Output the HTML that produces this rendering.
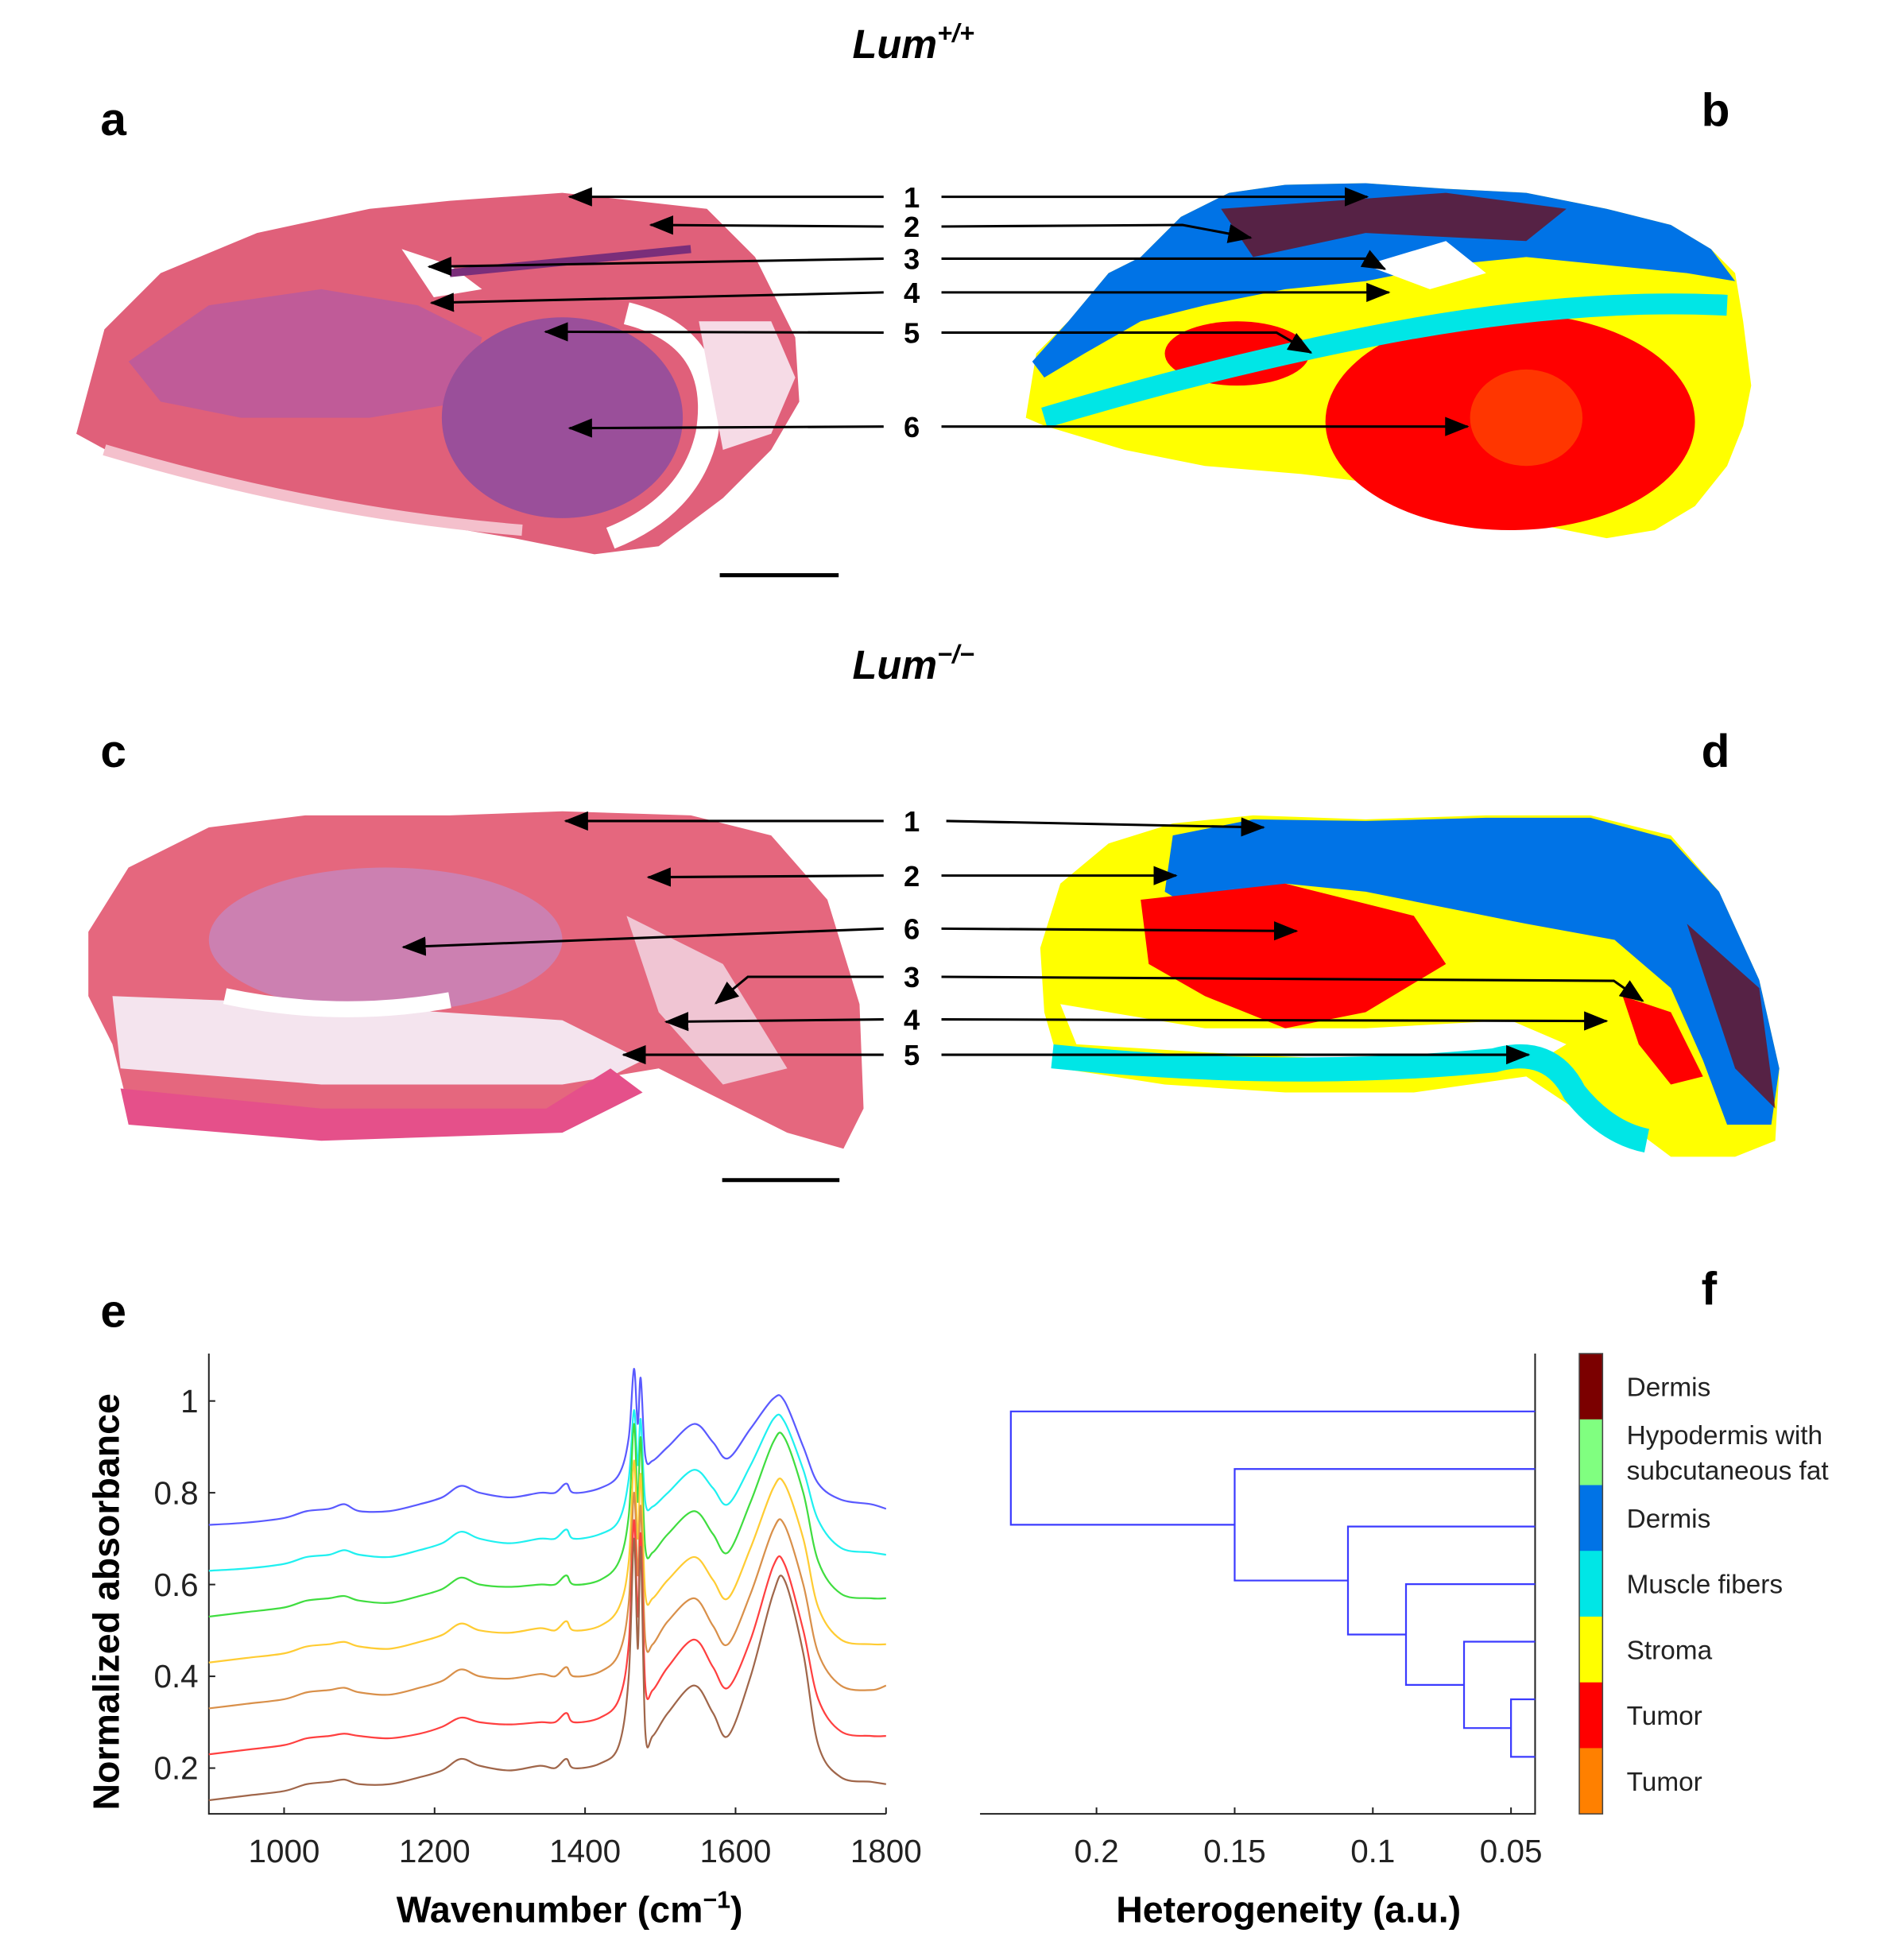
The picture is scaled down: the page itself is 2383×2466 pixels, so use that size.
<!DOCTYPE html>
<html><head><meta charset="utf-8">
<style>
html,body{margin:0;padding:0;background:#fff;}
svg{display:block;font-family:"Liberation Sans",Arial,sans-serif;}
</style></head>
<body>
<svg id="fig" width="2383" height="2466" viewBox="0 0 2383 2466" xmlns="http://www.w3.org/2000/svg">
<defs>
<marker id="ahb" markerWidth="30" markerHeight="24" refX="28" refY="12" orient="auto" markerUnits="userSpaceOnUse"><path d="M0,0 L30,12 L0,24 Z" fill="#000"/></marker>
</defs>
<g transform="scale(1.0107)">
<!-- titles & panel letters -->
<text x="1137" y="72" font-size="50" font-weight="bold" font-style="italic" text-anchor="middle">Lum<tspan font-size="32" dy="-20">+/+</tspan></text>
<text x="1137" y="845" font-size="50" font-weight="bold" font-style="italic" text-anchor="middle">Lum<tspan font-size="32" dy="-20">−/−</tspan></text>
<text x="125" y="168" font-size="58" font-weight="bold">a</text>
<text x="2118" y="157" font-size="58" font-weight="bold">b</text>
<text x="125" y="955" font-size="58" font-weight="bold">c</text>
<text x="2118" y="955" font-size="58" font-weight="bold">d</text>
<text x="125" y="1652" font-size="58" font-weight="bold">e</text>
<text x="2118" y="1624" font-size="58" font-weight="bold">f</text>

<!-- panel a: H&E image -->
<g>
<path d="M95,540 L130,410 L200,340 L320,290 L460,260 L560,250 L700,240 L880,260 L940,320 L960,360 L990,420 L995,500 L960,560 L900,620 L820,680 L740,690 L640,670 L520,650 L380,620 L250,590 L150,570 Z" fill="#e0607a"/>
<path d="M160,450 L260,380 L400,360 L520,380 L600,420 L580,500 L460,520 L300,520 L200,500 Z" fill="#b85aa0" opacity="0.8"/>
<ellipse cx="700" cy="520" rx="150" ry="125" fill="#9a4f9a"/>
<path d="M780,390 Q900,420 880,540 Q860,630 760,670" stroke="#fff" stroke-width="28" fill="none"/>
<path d="M870,400 L960,400 L990,470 L960,540 L900,560 Z" fill="#f6dbe6"/>
<path d="M130,560 Q400,640 650,660" stroke="#f4c0cc" stroke-width="14" fill="none"/>
<path d="M500,310 L560,330 L600,360 L540,370 Z" fill="#fff"/>
<path d="M560,340 L860,310" stroke="#7a2e7a" stroke-width="10"/>
</g>
<line x1="896" y1="716" x2="1044" y2="716" stroke="#000" stroke-width="5"/>

<!-- panel b: cluster map -->
<g>
<path d="M1277,520 L1290,440 L1330,400 L1380,340 L1420,320 L1470,270 L1530,240 L1600,230 L1700,228 L1800,235 L1900,240 L2000,260 L2080,280 L2130,310 L2160,340 L2170,400 L2180,480 L2170,530 L2150,580 L2110,630 L2060,660 L2000,670 L1900,650 L1820,620 L1760,610 L1700,600 L1620,590 L1500,580 L1400,560 L1300,530 Z" fill="#ffff00"/>
<path d="M1285,450 L1330,400 L1380,340 L1420,320 L1470,270 L1530,240 L1600,230 L1700,228 L1800,235 L1900,240 L2000,260 L2080,280 L2130,310 L2160,350 L2100,340 L2000,330 L1900,320 L1800,330 L1700,350 L1600,360 L1500,380 L1420,400 L1350,440 L1300,470 Z" fill="#0073e6"/>
<path d="M1520,260 L1800,240 L1950,260 L1900,300 L1700,290 L1560,320 Z" fill="#7b0000" opacity="0.7"/>
<path d="M1700,330 L1800,300 L1850,340 L1780,360 Z" fill="#fff"/>
<ellipse cx="1880" cy="525" rx="230" ry="135" fill="#ff0000"/>
<ellipse cx="1540" cy="440" rx="90" ry="40" fill="#ff0000"/>
<path d="M1300,520 Q1500,460 1700,420 Q1950,370 2150,380" stroke="#00e6e6" stroke-width="26" fill="none"/>
<ellipse cx="1900" cy="520" rx="70" ry="60" fill="#ff5a00" opacity="0.6"/>
</g>

<!-- panel c: H&E image -->
<g>
<path d="M110,1160 L160,1080 L260,1030 L380,1015 L560,1015 L700,1010 L860,1015 L960,1040 L1030,1120 L1070,1250 L1075,1380 L1050,1430 L980,1410 L920,1380 L820,1330 L760,1340 L700,1390 L600,1410 L400,1410 L250,1400 L160,1380 L140,1300 L110,1240 Z" fill="#e5677e"/>
<ellipse cx="480" cy="1170" rx="220" ry="90" fill="#c28cc8" opacity="0.7"/>
<path d="M140,1240 L400,1250 L700,1270 L800,1320 L760,1340 L700,1350 L400,1350 L150,1330 Z" fill="#f4e4ee"/>
<path d="M280,1240 Q420,1270 560,1245" stroke="#fff" stroke-width="20" fill="none"/>
<path d="M150,1355 L400,1380 L680,1380 L760,1330 L800,1360 L700,1410 L400,1420 L160,1400 Z" fill="#e5508a"/>
<path d="M780,1140 L900,1200 L980,1330 L900,1350 L820,1260 Z" fill="#f3dde8" opacity="0.8"/>
</g>
<line x1="899" y1="1469" x2="1045" y2="1469" stroke="#000" stroke-width="5"/>

<!-- panel d: cluster map -->
<g>
<path d="M1295,1180 L1320,1100 L1380,1050 L1460,1025 L1560,1015 L1700,1020 L1850,1015 L1980,1015 L2080,1040 L2140,1110 L2190,1220 L2215,1330 L2210,1420 L2160,1440 L2080,1440 L2040,1410 L1960,1380 L1900,1340 L1760,1360 L1600,1360 L1450,1350 L1320,1330 L1300,1260 Z" fill="#ffff00"/>
<path d="M1460,1040 L1560,1020 L1700,1022 L1850,1018 L1980,1018 L2080,1045 L2140,1110 L2190,1220 L2215,1330 L2205,1400 L2150,1400 L2120,1320 L2080,1230 L2010,1170 L1900,1150 L1800,1130 L1700,1110 L1600,1100 L1500,1140 L1450,1110 Z" fill="#0073e6"/>
<path d="M2100,1150 L2190,1230 L2210,1380 L2160,1330 L2130,1240 Z" fill="#7b0000" opacity="0.7"/>
<path d="M1420,1120 L1600,1100 L1760,1140 L1800,1200 L1700,1260 L1600,1280 L1500,1240 L1430,1200 Z" fill="#ff0000"/>
<path d="M1320,1250 L1500,1280 L1700,1280 L1880,1270 L1950,1300 L1900,1330 L1700,1320 L1500,1310 L1340,1300 Z" fill="#fff"/>
<path d="M1310,1315 Q1600,1345 1860,1320 Q1930,1300 1960,1360 Q2000,1410 2050,1420" stroke="#00e6e6" stroke-width="30" fill="none"/>
<path d="M2020,1240 L2080,1260 L2120,1340 L2080,1350 L2040,1300 Z" fill="#ff0000"/>
</g>

<!-- arrows and numbers -->
<g id="arrows" stroke="#000" stroke-width="3" fill="none" marker-end="url(#ahb)">
<polyline points="1100,245 709,245"/>
<polyline points="1100,282 810,280"/>
<polyline points="1100,322 534,332"/>
<polyline points="1100,364 537,377"/>
<polyline points="1100,414 679,413"/>
<polyline points="1100,531 709,533"/>
<polyline points="1172,245 1702,245"/>
<polyline points="1172,282 1472,280 1557,296"/>
<polyline points="1172,322 1700,322 1724,335"/>
<polyline points="1172,364 1729,364"/>
<polyline points="1172,414 1589,414 1632,439"/>
<polyline points="1172,531 1827,531"/>
<polyline points="1100,1022 704,1022"/>
<polyline points="1100,1090 807,1092"/>
<polyline points="1100,1156 502,1179"/>
<polyline points="1100,1216 931,1216 891,1249"/>
<polyline points="1100,1269 829,1272"/>
<polyline points="1100,1313 776,1313"/>
<polyline points="1178,1022 1573,1030"/>
<polyline points="1172,1090 1464,1090"/>
<polyline points="1172,1156 1614,1159"/>
<polyline points="1172,1216 2009,1221 2045,1246"/>
<polyline points="1172,1269 2000,1271"/>
<polyline points="1172,1313 1903,1313"/>
</g>
<g font-size="36" font-weight="bold" text-anchor="middle">
<text x="1135" y="258">1</text><text x="1135" y="295">2</text><text x="1135" y="335">3</text><text x="1135" y="377">4</text><text x="1135" y="427">5</text><text x="1135" y="544">6</text>
<text x="1135" y="1035">1</text><text x="1135" y="1103">2</text><text x="1135" y="1169">6</text><text x="1135" y="1229">3</text><text x="1135" y="1282">4</text><text x="1135" y="1326">5</text>
</g>

<!-- panel e -->
<g id="spectra"></g>
<!-- panel f -->
<g id="dendro"></g>
</g>
</svg>

<script>
const wavenumbers = [900,950,1000,1030,1060,1080,1100,1140,1180,1210,1235,1260,1300,1340,1360,1375,1385,1420,1445,1458,1465,1470,1474,1480,1490,1510,1545,1570,1590,1620,1650,1665,1690,1710,1740,1780,1800];
const specBlue   = [0.73,0.735,0.745,0.76,0.765,0.775,0.76,0.76,0.775,0.79,0.815,0.80,0.79,0.80,0.80,0.82,0.80,0.81,0.84,0.92,1.07,0.95,1.05,0.88,0.87,0.90,0.95,0.91,0.875,0.94,1.005,1.0,0.90,0.82,0.785,0.775,0.765];
const specCyan   = [0.63,0.635,0.645,0.66,0.665,0.675,0.665,0.66,0.675,0.69,0.715,0.70,0.69,0.70,0.70,0.72,0.70,0.71,0.74,0.83,0.98,0.86,0.96,0.78,0.77,0.80,0.85,0.81,0.775,0.86,0.96,0.955,0.85,0.74,0.68,0.67,0.665];
const specGreen  = [0.53,0.54,0.55,0.565,0.57,0.575,0.565,0.56,0.575,0.59,0.615,0.60,0.595,0.60,0.60,0.62,0.60,0.61,0.65,0.75,0.95,0.78,0.92,0.68,0.67,0.71,0.76,0.71,0.67,0.78,0.91,0.92,0.80,0.65,0.58,0.57,0.57];
const specYellow = [0.43,0.44,0.45,0.465,0.47,0.475,0.465,0.46,0.475,0.49,0.515,0.50,0.495,0.505,0.50,0.52,0.50,0.51,0.55,0.65,0.87,0.70,0.84,0.58,0.57,0.61,0.66,0.61,0.57,0.68,0.81,0.82,0.70,0.55,0.48,0.47,0.47];
const specOrange = [0.33,0.34,0.35,0.365,0.37,0.375,0.365,0.36,0.375,0.39,0.415,0.40,0.395,0.405,0.40,0.42,0.40,0.41,0.45,0.56,0.80,0.62,0.77,0.48,0.47,0.52,0.57,0.51,0.47,0.58,0.72,0.73,0.60,0.45,0.38,0.37,0.38];
const specRed    = [0.23,0.24,0.25,0.265,0.27,0.275,0.27,0.265,0.275,0.29,0.31,0.30,0.295,0.30,0.30,0.32,0.30,0.31,0.35,0.47,0.74,0.53,0.71,0.38,0.37,0.42,0.48,0.42,0.375,0.48,0.64,0.645,0.50,0.35,0.28,0.27,0.27];
const specBrown  = [0.13,0.14,0.15,0.165,0.17,0.175,0.165,0.165,0.18,0.195,0.22,0.205,0.195,0.205,0.20,0.22,0.20,0.21,0.25,0.40,0.70,0.46,0.68,0.28,0.27,0.32,0.38,0.32,0.27,0.40,0.58,0.61,0.45,0.25,0.18,0.17,0.165];
const xTicks = [1000,1200,1400,1600,1800];
const yTicks = [0.2,0.4,0.6,0.8,1];
const yTickLabels = ["0.2","0.4","0.6","0.8","1"];

const clusterLabels = ["Dermis","Hypodermis with|subcutaneous fat","Dermis","Muscle fibers","Stroma","Tumor","Tumor"];
const mergeLeftA = ["5","4","3","2","1","0"];
const mergeLeftB = ["6","n0","n1","n2","n3","n4"];
const mergeHeights = [0.05,0.067,0.088,0.109,0.15,0.231];
const hTicks = [0.2,0.15,0.1,0.05];
const hTickLabels = ["0.2","0.15","0.1","0.05"];

const NS="http://www.w3.org/2000/svg";
function mk(parent,tag,attrs){const e=document.createElementNS(NS,tag);for(const k in attrs)e.setAttribute(k,attrs[k]);parent.appendChild(e);return e;}
function smooth(p){let d=`M${p[0][0].toFixed(1)},${p[0][1].toFixed(1)}`;
  for(let i=0;i<p.length-1;i++){const p0=p[Math.max(0,i-1)],p1=p[i],p2=p[i+1],p3=p[Math.min(p.length-1,i+2)];
    const c1=[p1[0]+(p2[0]-p0[0])/6,p1[1]+(p2[1]-p0[1])/6],c2=[p2[0]-(p3[0]-p1[0])/6,p2[1]-(p3[1]-p1[1])/6];
    d+=` C${c1[0].toFixed(1)},${c1[1].toFixed(1)} ${c2[0].toFixed(1)},${c2[1].toFixed(1)} ${p2[0].toFixed(1)},${p2[1].toFixed(1)}`;}
  return d;}

const sp=document.getElementById('spectra');
const X0=260,X1=1103,YT=1685,YB=2258;
const xs=v=>X0+(v-900)/(1800-900)*(X1-X0);
const ys=v=>2201-(v-0.2)/0.8*(2201-1744);
let ax=mk(sp,'path',{d:`M${X0},${YT} L${X0},${YB} L${X1},${YB}`,stroke:'#222','stroke-width':2,fill:'none'});


xTicks.forEach(t=>{
  const l=mk(sp,'line',{x1:xs(t),x2:xs(t),y1:YB,y2:YB-8,stroke:'#222','stroke-width':2});
  
  
  const tx=mk(sp,'text',{x:xs(t),y:2318,'font-size':40,'text-anchor':'middle',fill:'#222'});tx.textContent=t;
  
  
});
yTicks.forEach((t,i)=>{
  const l=mk(sp,'line',{x1:X0,x2:X0+8,y1:ys(t),y2:ys(t),stroke:'#222','stroke-width':2});
  
  
  const tx=mk(sp,'text',{x:247,y:ys(t)+14,'font-size':40,'text-anchor':'end',fill:'#222'});tx.textContent=yTickLabels[i];
  
  
});
const series=[[specBlue,'#5a5aff','blue'],[specCyan,'#20f0f0','cyan'],[specGreen,'#40dd40','green'],[specYellow,'#ffcc33','yellow'],[specOrange,'#d9904a','orange'],[specRed,'#ff4040','red'],[specBrown,'#a0664a','brown']];
series.forEach(([vals,col,nm])=>{
  const pts=vals.map((v,i)=>[xs(wavenumbers[i]),ys(v)]);
  const p=mk(sp,'path',{d:smooth(pts),stroke:col,'stroke-width':2.2,fill:'none','stroke-linejoin':'round'});
  
  
});
let t=mk(sp,'text',{x:709,y:2393,'font-size':46,'font-weight':'bold','text-anchor':'middle'});
t.innerHTML='Wavenumber (cm<tspan font-size="30" dy="-18">−1</tspan><tspan dy="18">)</tspan>';


t=mk(sp,'text',{x:0,y:0,'font-size':46,'font-weight':'bold','text-anchor':'middle',transform:'translate(148,1994) rotate(-90)'});
t.textContent='Normalized absorbance';



const dg=document.getElementById('dendro');
const DX0=1220,DX1=1911;
const hx=h=>1881-(h-0.05)/0.05*(1881-1709);
const leafY=i=>1757+i*((2187-1757)/6);
ax=mk(dg,'path',{d:`M${DX0},${YB} L${DX1},${YB} L${DX1},${YT}`,stroke:'#222','stroke-width':2,fill:'none'});


hTicks.forEach((h,i)=>{
  const l=mk(dg,'line',{x1:hx(h),x2:hx(h),y1:YB,y2:YB-8,stroke:'#222','stroke-width':2});
  
  
  const tx=mk(dg,'text',{x:hx(h),y:2318,'font-size':40,'text-anchor':'middle',fill:'#222'});tx.textContent=hTickLabels[i];
  
  
});
const node={};
for(let i=0;i<7;i++)node[String(i)]={y:leafY(i),x:DX1};
mergeHeights.forEach((h,m)=>{
  const a=node[mergeLeftA[m]],b=node[mergeLeftB[m]],x=hx(h);
  const p=mk(dg,'path',{d:`M${a.x},${a.y} L${x},${a.y} L${x},${b.y} L${b.x},${b.y}`,stroke:'#3b3bff','stroke-width':2.2,fill:'none'});
  
  
  node['n'+m]={x:x,y:(a.y+b.y)/2};
});
t=mk(dg,'text',{x:1604,y:2393,'font-size':46,'font-weight':'bold','text-anchor':'middle'});
t.textContent='Heterogeneity (a.u.)';


const cols=['#7b0000','#80ff80','#0073e6','#00e6e6','#ffff00','#ff0000','#ff8000'];
const segH=(YB-YT)/7;
cols.forEach((c,i)=>{
  const r=mk(dg,'rect',{x:1966,y:YT+i*segH,width:29,height:segH+0.5,fill:c});
  
  
  const lines=clusterLabels[i].split('|');
  lines.forEach((ln,k)=>{
    const tx=mk(dg,'text',{x:2025,y:YT+i*segH+segH/2+12+(k-(lines.length-1)/2)*44,'font-size':33,fill:'#222'});
    tx.textContent=ln;
    
    
  });
});
mk(dg,'rect',{x:1966,y:YT,width:29,height:YB-YT,fill:'none',stroke:'#444','stroke-width':1.5});
</script>
</body></html>
